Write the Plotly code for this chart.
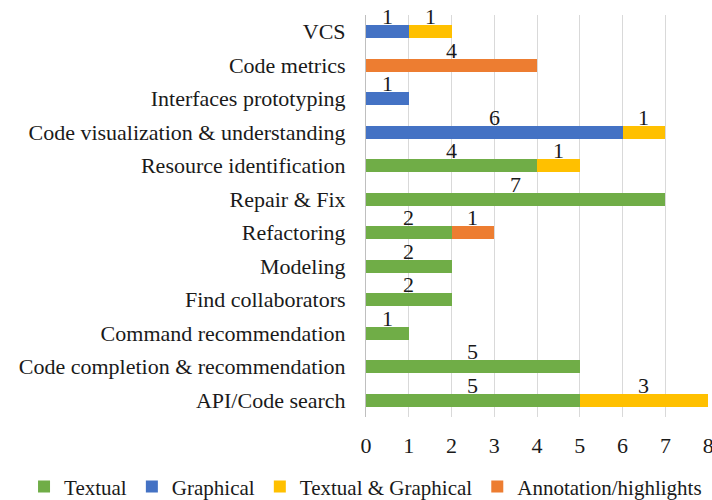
import plotly.graph_objects as go

categories = ["VCS", "Code metrics", "Interfaces prototyping",
              "Code visualization & understanding", "Resource identification",
              "Repair & Fix", "Refactoring", "Modeling", "Find collaborators",
              "Command recommendation", "Code completion & recommendation",
              "API/Code search"]
textual = [0, 0, 0, 0, 4, 7, 2, 2, 2, 1, 5, 5]
graphical = [1, 0, 1, 6, 0, 0, 0, 0, 0, 0, 0, 0]
text_graph = [1, 0, 0, 1, 1, 0, 0, 0, 0, 0, 0, 3]
annotation = [0, 4, 0, 0, 0, 0, 1, 0, 0, 0, 0, 0]
x_ticks = [0, 1, 2, 3, 4, 5, 6, 7, 8]

series = [
    ("Textual", textual, "#70AD47"),
    ("Graphical", graphical, "#4472C4"),
    ("Textual & Graphical", text_graph, "#FFC000"),
    ("Annotation/highlights", annotation, "#ED7D31"),
]

FONT = "Times New Roman, Liberation Serif, serif"
fig = go.Figure()
annots = []
base = [0] * len(categories)
for name, vals, color in series:
    fig.add_trace(go.Bar(
        name=name, y=categories, x=vals, orientation="h",
        marker=dict(color=color, line=dict(width=0)), width=0.39,
    ))
    for i, v in enumerate(vals):
        if v:
            annots.append(dict(
                x=base[i] + v / 2, y=categories[i], xref="x", yref="y",
                text=str(v), showarrow=False, yanchor="middle", yshift=15,
                font=dict(family=FONT, size=22, color="#1a1a1a"),
            ))
        base[i] += v

fig.update_layout(
    barmode="stack",
    width=712, height=500,
    margin=dict(l=366, r=3, t=15, b=83, autoexpand=False),
    paper_bgcolor="white", plot_bgcolor="white",
    font=dict(family=FONT, size=22, color="#1a1a1a"),
    annotations=annots,
    showlegend=True,
    legend=dict(
        orientation="h", xref="paper", yref="paper",
        x=-0.997, xanchor="left", y=-0.174, yanchor="middle",
        font=dict(family=FONT, size=21, color="#1a1a1a"),
        itemwidth=30, traceorder="normal", tracegroupgap=0,
    ),
    bargap=0.6,
)
fig.update_xaxes(
    range=[0, 8.02], tickvals=x_ticks, ticktext=[str(t) for t in x_ticks],
    showgrid=True, gridcolor="#d9d9d9", gridwidth=1, zeroline=False,
    showline=False, ticks="", ticklabelstandoff=13, automargin=False,
    ticklabeloverflow="allow",
)
fig.update_yaxes(
    categoryorder="array", categoryarray=categories,
    range=[len(categories) - 0.5, -0.5],
    showgrid=False, showline=True, linecolor="#bfbfbf", linewidth=1,
    ticks="", ticklabelstandoff=15, automargin=False,
)
fig.write_html("out.html", config={"displayModeBar": False},
               post_script="document.body.style.margin='0';document.body.style.overflow='hidden';")
